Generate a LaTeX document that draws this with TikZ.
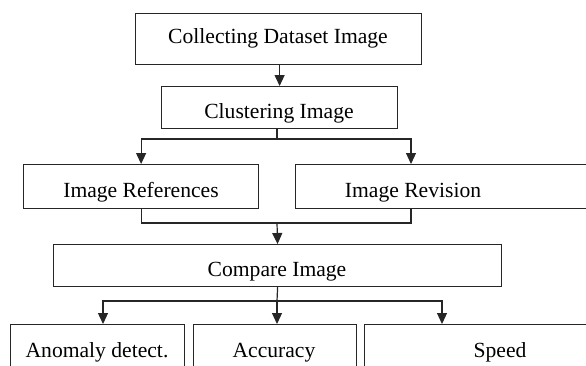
\documentclass[tikz,border=0pt]{standalone}
\usepackage{fontspec}
\setmainfont{Liberation Serif}
\usetikzlibrary{arrows.meta}
\begin{document}
\begin{tikzpicture}[x=1pt,y=-1pt,
  box/.style={draw=black!85, line width=1.2pt, inner sep=0pt, rectangle, anchor=north west},
  lab/.style={anchor=base, inner sep=0pt, font=\fontsize{21.6}{26}\selectfont},
  ln/.style={draw=black!85, line width=1.2pt},
  arr/.style={ln, -{Triangle[length=11pt,width=10pt]}}]
\useasboundingbox (0,0) rectangle (586,365);
\clip (0,0) rectangle (586,365);
% boxes
\node[box, minimum width=286pt, minimum height=51pt] (n1) at (135,13) {};
\node[box, minimum width=236pt, minimum height=42pt] (n2) at (161,86) {};
\node[box, minimum width=235pt, minimum height=44pt] (n3) at (23,164) {};
\node[box, minimum width=310pt, minimum height=44pt] (n4) at (295,164) {};
\node[box, minimum width=448pt, minimum height=42pt] (n5) at (53,244) {};
\node[box, minimum width=174pt, minimum height=60pt] (n6) at (10,324) {};
\node[box, minimum width=163pt, minimum height=60pt] (n7) at (193,324) {};
\node[box, minimum width=260pt, minimum height=60pt] (n8) at (364,324) {};
% labels
\node[lab] (t1) at (278,43) {Collecting Dataset Image};
\node[lab] (t2) at (279,118) {Clustering Image};
\node[lab] (t3) at (141,197) {Image References};
\node[lab] (t4) at (413,197) {Image Revision};
\node[lab] (t5) at (277,276) {Compare Image};
\node[lab] (t6) at (97,357) {Anomaly detect.};
\node[lab] (t7) at (274,357) {Accuracy};
\node[lab] (t8) at (500,357) {Speed};
% connectors
\draw[arr] (n1.south -| n2.north) -- (n2.north);
\coordinate (s1) at (277,139);
\coordinate (a4) at (411,164);
\draw[ln] (n2.south -| s1) -- (s1);
\draw[arr] (s1) -| (n3.north);
\draw[arr] (s1) -| (a4);
\coordinate (s2) at (277,223);
\coordinate (b4) at (411,208);
\draw[ln] (n3.south) |- (s2);
\draw[ln] (b4) |- (s2);
\draw[arr] (s2) -- (n5.north);
\coordinate (s3) at (277,301);
\coordinate (a6) at (103,324);
\coordinate (a8) at (442,324);
\draw[ln] (n5.south) -- (s3);
\draw[arr] (s3) -| (a6);
\draw[arr] (s3) -- (s3 |- n7.north);
\draw[arr] (s3) -| (a8);
\end{tikzpicture}
\end{document}
